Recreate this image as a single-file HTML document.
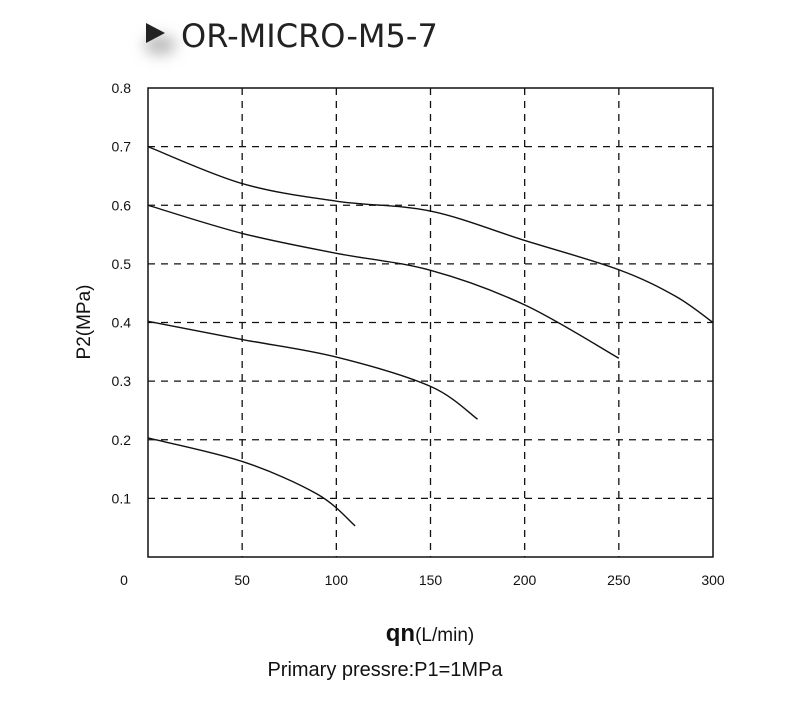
<!DOCTYPE html>
<html><head><meta charset="utf-8"><style>
body{margin:0;background:#fff;width:800px;height:700px;overflow:hidden;font-family:"Liberation Sans",sans-serif}
</style></head><body>
<svg width="800" height="700" id="svg">
<defs><filter id="bl" x="-1" y="-1" width="3" height="3"><feGaussianBlur stdDeviation="7"/></filter></defs>
<ellipse cx="160" cy="45" rx="16" ry="10" fill="#bbb" filter="url(#bl)"/>
<polygon points="146,23 146,43 165,33" fill="#222"/>
<text x="181" y="47" font-family="DejaVu Sans, Liberation Sans, sans-serif" font-size="32" fill="#222">OR-MICRO-M5-7</text>
<g id="grid"></g>
<g id="curves"></g>
<rect x="148" y="88" width="565" height="469" fill="none" stroke="#111" stroke-width="1.5"/>
<g id="ticks" font-size="14" fill="#111"></g>
<text x="90" y="322" font-size="19" fill="#111" text-anchor="middle" transform="rotate(-90 90 322)">P2(MPa)</text>
<text x="430" y="641" text-anchor="middle" fill="#111"><tspan font-size="24" font-weight="bold">qn</tspan><tspan font-size="19">(L/min)</tspan></text>
<text x="385" y="676" text-anchor="middle" font-size="20" fill="#111">Primary pressre:P1=1MPa</text>
</svg>
<script>
const xTicks=[50,100,150,200,250,300];
const yTicks=[0.1,0.2,0.3,0.4,0.5,0.6,0.7,0.8];
const c1x=[0,50,100,150,200,250,280,300];
const c1y=[0.7,0.637,0.607,0.59,0.54,0.49,0.445,0.40];
const c2x=[0,50,100,150,200,250];
const c2y=[0.6,0.552,0.518,0.489,0.43,0.339];
const c3x=[0,50,100,150,175];
const c3y=[0.402,0.371,0.341,0.291,0.235];
const c4x=[0,50,90,110];
const c4y=[0.203,0.163,0.107,0.053];
const X=v=>148+v*565/300, Y=v=>557-v*469/0.8;
const NS="http://www.w3.org/2000/svg";
const grid=document.getElementById('grid'),ticks=document.getElementById('ticks'),cur=document.getElementById('curves');
function mk(tag,attrs,parent){const e=document.createElementNS(NS,tag);for(const k in attrs)e.setAttribute(k,attrs[k]);parent.appendChild(e);return e;}
xTicks.forEach(v=>{
 if(v<300){const l=mk('line',{x1:X(v),x2:X(v),y1:88,y2:557,stroke:'#111','stroke-width':1.3,'stroke-dasharray':'7,6'},grid);
 
 }
 const t=mk('text',{x:X(v),y:585,'text-anchor':'middle'},ticks);t.textContent=v;
 
 
});
const z=mk('text',{x:124,y:585,'text-anchor':'middle'},ticks);z.textContent='0';


yTicks.forEach(v=>{
 if(v<0.8){const l=mk('line',{x1:148,x2:713,y1:Y(v),y2:Y(v),stroke:'#111','stroke-width':1.3,'stroke-dasharray':'7,6'},grid);
 
 }
 const t=mk('text',{x:131,y:Y(v)+5,'text-anchor':'end'},ticks);t.textContent=v.toFixed(1);
 
 
});
function curve(xs,ys,name){
 const p=xs.map((x,i)=>[X(x),Y(ys[i])]);
 let d='M'+p[0][0]+','+p[0][1];
 for(let i=0;i<p.length-1;i++){const p0=p[i-1]||p[i],p1=p[i],p2=p[i+1],p3=p[i+2]||p2;
  d+=` C${p1[0]+(p2[0]-p0[0])/6},${p1[1]+(p2[1]-p0[1])/6} ${p2[0]-(p3[0]-p1[0])/6},${p2[1]-(p3[1]-p1[1])/6} ${p2[0]},${p2[1]}`;}
 const e=mk('path',{d:d,fill:'none',stroke:'#111','stroke-width':1.4},cur);
 
 
}
curve(c1x,c1y,'curve-0.7mpa');curve(c2x,c2y,'curve-0.6mpa');curve(c3x,c3y,'curve-0.4mpa');curve(c4x,c4y,'curve-0.2mpa');
</script>
</body></html>
